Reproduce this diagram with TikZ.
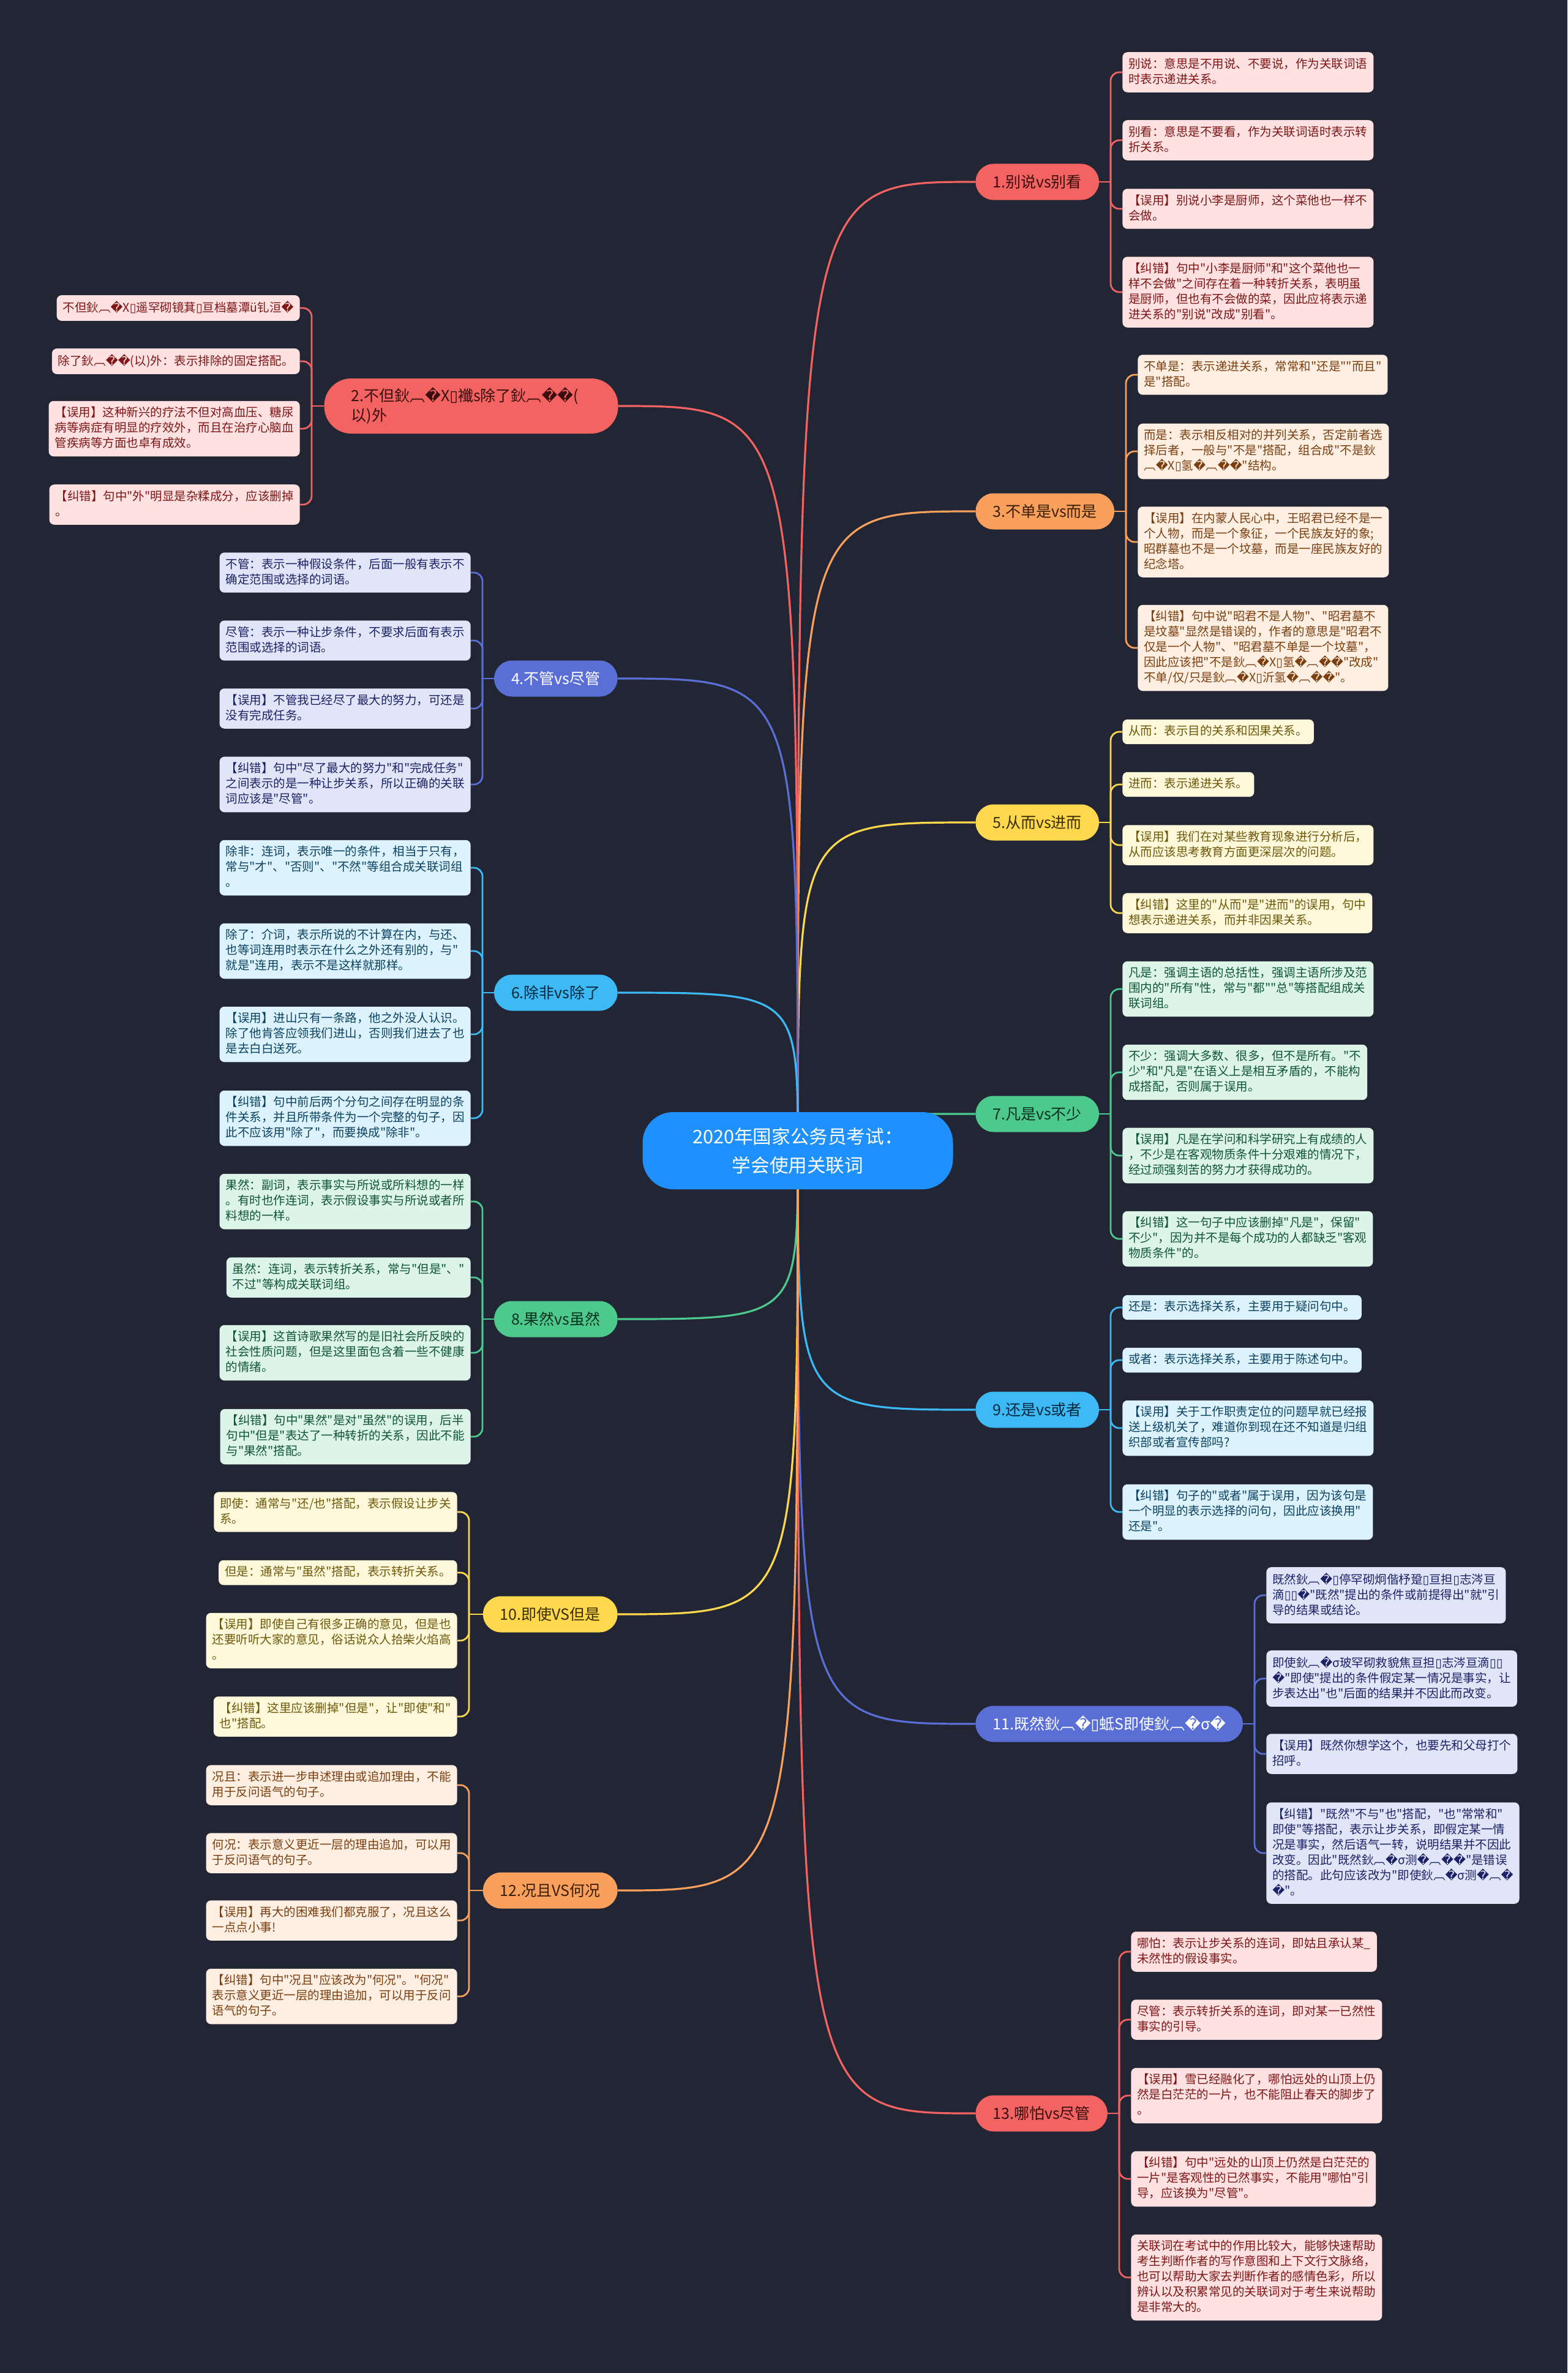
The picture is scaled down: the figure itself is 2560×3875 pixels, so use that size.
\documentclass[tikz,border=0pt]{standalone}
\usepackage{fontspec}
\newfontfamily\cjk{Noto Sans CJK SC}
\newfontfamily\djv{DejaVu Sans}
\newcommand\rpc{{\djv\char"FFFD}}
\newcommand\tofu{{\djv\char"25AF}}
\newcommand\lstrut{\rule[-2.5pt]{0pt}{10pt}}
\newcommand\leaffont{\cjk\fontsize{9.75pt}{12.5pt}\selectfont}
\newcommand\brfont{\cjk\fontsize{12.5pt}{16pt}\selectfont}
\newcommand\ctrfont{\cjk\fontsize{15.3pt}{23.5pt}\selectfont}
\pgfdeclarelayer{back}
\pgfdeclarelayer{bg}
\pgfsetlayers{back,bg,main}
\definecolor{bgc}{RGB}{34,38,52}
\definecolor{ctr}{RGB}{30,144,255}
\definecolor{redN}{RGB}{242,99,97}
\definecolor{redL}{RGB}{255,225,225}
\definecolor{redT}{RGB}{125,22,22}
\definecolor{redNT}{RGB}{58,14,14}
\definecolor{orgN}{RGB}{248,160,92}
\definecolor{orgL}{RGB}{255,239,227}
\definecolor{orgT}{RGB}{122,62,15}
\definecolor{orgNT}{RGB}{60,30,6}
\definecolor{yelN}{RGB}{255,216,78}
\definecolor{yelL}{RGB}{255,248,218}
\definecolor{yelT}{RGB}{110,88,10}
\definecolor{yelNT}{RGB}{58,46,0}
\definecolor{grnN}{RGB}{77,201,141}
\definecolor{grnL}{RGB}{221,245,233}
\definecolor{grnT}{RGB}{15,85,53}
\definecolor{grnNT}{RGB}{10,50,32}
\definecolor{bluN}{RGB}{90,111,214}
\definecolor{bluL}{RGB}{225,229,248}
\definecolor{bluT}{RGB}{27,34,102}
\definecolor{skyN}{RGB}{61,185,246}
\definecolor{skyL}{RGB}{220,242,253}
\definecolor{skyT}{RGB}{11,66,98}
\definecolor{skyNT}{RGB}{6,40,61}
\tikzset{
  leaf/.style={rounded corners=4pt, inner xsep=5pt, inner ysep=4.75pt, align=left, font=\leaffont,
    execute at begin node=\lstrut, execute at end node=\lstrut},
  lf red/.style={leaf, fill=redL, text=redT},
  lf org/.style={leaf, fill=orgL, text=orgT},
  lf yel/.style={leaf, fill=yelL, text=yelT},
  lf grn/.style={leaf, fill=grnL, text=grnT},
  lf blu/.style={leaf, fill=bluL, text=bluT},
  lf sky/.style={leaf, fill=skyL, text=skyT},
  br/.style={rounded corners=14.75pt, minimum height=29.5pt, inner xsep=14pt, font=\brfont},
  br red/.style={br, fill=redN, text=redNT},
  br org/.style={br, fill=orgN, text=orgNT},
  br yel/.style={br, fill=yelN, text=yelNT},
  br grn/.style={br, fill=grnN, text=grnNT},
  br blu/.style={br, fill=bluN, text=white},
  br sky/.style={br, fill=skyN, text=skyNT},
  ctrnode/.style={fill=ctr, text=white, rounded corners=25pt, minimum width=253.5pt,
    minimum height=63pt, align=center, font=\ctrfont},
  main/.style={draw=#1, line width=1.6pt},
  lk/.style={draw=#1, line width=1.4pt},
  lkc/.style={draw=#1, line width=1.4pt, rounded corners=7pt}
}
\begin{document}
\begin{tikzpicture}[x=0.5pt,y=-0.5pt]
\useasboundingbox (0,0) rectangle (2560,3875);
\begin{pgfonlayer}{back}
\fill[bgc] (0,0) rectangle (2560,3875);
\end{pgfonlayer}

% centre
\node[ctrnode] (c) at (1303,1879) {2020年国家公务员考试：\\学会使用关联词};

% ---------- right side ----------
\node[br red, anchor=west] (b1) at (1593,297) {1.别说vs别看};
\node[lf red, anchor=west] (l1a) at (1833,118) {别说：意思是不用说、不要说，作为关联词语\\时表示递进关系。};
\node[lf red, anchor=west] (l1b) at (1833,229) {别看：意思是不要看，作为关联词语时表示转\\折关系。};
\node[lf red, anchor=west] (l1c) at (1833,341) {【误用】别说小李是厨师，这个菜他也一样不\\会做。};
\node[lf red, anchor=west] (l1d) at (1833,477) {【纠错】句中"小李是厨师"和"这个菜他也一\\样不会做"之间存在着一种转折关系，表明虽\\是厨师，但也有不会做的菜，因此应将表示递\\进关系的"别说"改成"别看"。};

\node[br org, anchor=west] (b3) at (1593,835) {3.不单是vs而是};
\node[lf org, anchor=west] (l3a) at (1858,612) {不单是：表示递进关系，常常和"还是""而且"\\是"搭配。};
\node[lf org, anchor=west] (l3b) at (1858,737) {而是：表示相反相对的并列关系，否定前者选\\择后者，一般与"不是"搭配，组合成"不是鈥\\︹\rpc{}X\tofu{}氢\rpc{}︹\rpc{}\rpc{}"结构。};
\node[lf org, anchor=west] (l3c) at (1858,885) {【误用】在内蒙人民心中，王昭君已经不是一\\个人物，而是一个象征，一个民族友好的象;\\昭群墓也不是一个坟墓，而是一座民族友好的\\纪念塔。};
\node[lf org, anchor=west] (l3d) at (1858,1058) {【纠错】句中说"昭君不是人物"、"昭君墓不\\是坟墓"显然是错误的，作者的意思是"昭君不\\仅是一个人物"、"昭君墓不单是一个坟墓"，\\因此应该把"不是鈥︹\rpc{}X\tofu{}氢\rpc{}︹\rpc{}\rpc{}"改成"\\不单/仅/只是鈥︹\rpc{}X\tofu{}沂氢\rpc{}︹\rpc{}\rpc{}"。};

\node[br yel, anchor=west] (b5) at (1593,1343) {5.从而vs进而};
\node[lf yel, anchor=west] (l5a) at (1833,1195) {从而：表示目的关系和因果关系。};
\node[lf yel, anchor=west] (l5b) at (1833,1281) {进而：表示递进关系。};
\node[lf yel, anchor=west] (l5c) at (1833,1380) {【误用】我们在对某些教育现象进行分析后，\\从而应该思考教育方面更深层次的问题。};
\node[lf yel, anchor=west] (l5d) at (1833,1491) {【纠错】这里的"从而"是"进而"的误用，句中\\想表示递进关系，而并非因果关系。};

\node[br grn, anchor=west] (b7) at (1593,1819) {7.凡是vs不少};
\node[lf grn, anchor=west] (l7a) at (1833,1615) {凡是：强调主语的总括性，强调主语所涉及范\\围内的"所有"性，常与"都""总"等搭配组成关\\联词组。};
\node[lf grn, anchor=west] (l7b) at (1833,1751) {不少：强调大多数、很多，但不是所有。"不\\少"和"凡是"在语义上是相互矛盾的，不能构\\成搭配，否则属于误用。};
\node[lf grn, anchor=west] (l7c) at (1833,1887) {【误用】凡是在学问和科学研究上有成绩的人\\，不少是在客观物质条件十分艰难的情况下，\\经过顽强刻苦的努力才获得成功的。};
\node[lf grn, anchor=west] (l7d) at (1833,2023) {【纠错】这一句子中应该删掉"凡是"，保留"\\不少"，因为并不是每个成功的人都缺乏"客观\\物质条件"的。};

\node[br sky, anchor=west] (b9) at (1593,2302) {9.还是vs或者};
\node[lf sky, anchor=west] (l9a) at (1833,2135) {还是：表示选择关系，主要用于疑问句中。};
\node[lf sky, anchor=west] (l9b) at (1833,2221) {或者：表示选择关系，主要用于陈述句中。};
\node[lf sky, anchor=west] (l9c) at (1833,2332) {【误用】关于工作职责定位的问题早就已经报\\送上级机关了，难道你到现在还不知道是归组\\织部或者宣传部吗?};
\node[lf sky, anchor=west] (l9d) at (1833,2469) {【纠错】句子的"或者"属于误用，因为该句是\\一个明显的表示选择的问句，因此应该换用"\\还是"。};

\node[br blu, anchor=west] (b11) at (1593,2815) {11.既然鈥︹\rpc{}\tofu{}蚳S即使鈥︹\rpc{}σ\rpc{}};
\node[lf blu, anchor=west] (l11a) at (2068,2605) {既然鈥︹\rpc{}\tofu{}停罕砌炯偕杼跫\tofu{}亘担\tofu{}志涔亘\\滴\tofu{}\tofu{}\rpc{}"既然"提出的条件或前提得出"就"引\\导的结果或结论。};
\node[lf blu, anchor=west] (l11b) at (2068,2741) {即使鈥︹\rpc{}σ玻罕砌救貌焦亘担\tofu{}志涔亘滴\tofu{}\tofu{}\\\rpc{}"即使"提出的条件假定某一情况是事实，让\\步表达出"也"后面的结果并不因此而改变。};
\node[lf blu, anchor=west] (l11c) at (2068,2864) {【误用】既然你想学这个，也要先和父母打个\\招呼。};
\node[lf blu, anchor=west] (l11d) at (2068,3026) {【纠错】"既然"不与"也"搭配，"也"常常和"\\即使"等搭配，表示让步关系，即假定某一情\\况是事实，然后语气一转，说明结果并不因此\\改变。因此"既然鈥︹\rpc{}σ测\rpc{}︹\rpc{}\rpc{}"是错误\\的搭配。此句应该改为"即使鈥︹\rpc{}σ测\rpc{}︹\rpc{}\\\rpc{}"。};

\node[br red, anchor=west] (b13) at (1593,3451) {13.哪怕vs尽管};
\node[lf red, anchor=west] (l13a) at (1847,3187) {哪怕：表示让步关系的连词，即姑且承认某\_\\未然性的假设事实。};
\node[lf red, anchor=west] (l13b) at (1847,3298) {尽管：表示转折关系的连词，即对某一已然性\\事实的引导。};
\node[lf red, anchor=west] (l13c) at (1847,3422) {【误用】雪已经融化了，哪怕远处的山顶上仍\\然是白茫茫的一片，也不能阻止春天的脚步了\\。};
\node[lf red, anchor=west] (l13d) at (1847,3558) {【纠错】句中"远处的山顶上仍然是白茫茫的\\一片"是客观性的已然事实，不能用"哪怕"引\\导，应该换为"尽管"。};
\node[lf red, anchor=west] (l13e) at (1847,3719) {关联词在考试中的作用比较大，能够快速帮助\\考生判断作者的写作意图和上下文行文脉络，\\也可以帮助大家去判断作者的感情色彩，所以\\辨认以及积累常见的关联词对于考生来说帮助\\是非常大的。};

% ---------- left side ----------
\node[br red, anchor=east, minimum height=45pt, rounded corners=22pt, inner xsep=22pt, text width=196pt, align=left] (b2) at (1010,663) {2.不但鈥︹\rpc{}X\tofu{}襳s除了鈥︹\rpc{}\rpc{}(\\以)外};
\node[lf red, anchor=east] (l2a) at (490,503) {不但鈥︹\rpc{}X\tofu{}遥罕砌镜萁\tofu{}亘档墓潭ü钆洹\rpc{}};
\node[lf red, anchor=east] (l2b) at (490,590) {除了鈥︹\rpc{}\rpc{}(以)外：表示排除的固定搭配。};
\node[lf red, anchor=east] (l2c) at (490,700) {【误用】这种新兴的疗法不但对高血压、糖尿\\病等病症有明显的疗效外，而且在治疗心脑血\\管疾病等方面也卓有成效。};
\node[lf red, anchor=east] (l2d) at (490,824) {【纠错】句中"外"明显是杂糅成分，应该删掉\\。};

\node[br blu, anchor=east] (b4) at (1009,1108) {4.不管vs尽管};
\node[lf blu, anchor=east] (l4a) at (769,935) {不管：表示一种假设条件，后面一般有表示不\\确定范围或选择的词语。};
\node[lf blu, anchor=east] (l4b) at (769,1046) {尽管：表示一种让步条件，不要求后面有表示\\范围或选择的词语。};
\node[lf blu, anchor=east] (l4c) at (769,1157) {【误用】不管我已经尽了最大的努力，可还是\\没有完成任务。};
\node[lf blu, anchor=east] (l4d) at (769,1281) {【纠错】句中"尽了最大的努力"和"完成任务"\\之间表示的是一种让步关系，所以正确的关联\\词应该是"尽管"。};

\node[br sky, anchor=east] (b6) at (1009,1621) {6.除非vs除了};
\node[lf sky, anchor=east] (l6a) at (769,1417) {除非：连词，表示唯一的条件，相当于只有，\\常与"才"、"否则"、"不然"等组合成关联词组\\。};
\node[lf sky, anchor=east] (l6b) at (769,1553) {除了：介词，表示所说的不计算在内，与还、\\也等词连用时表示在什么之外还有别的，与"\\就是"连用，表示不是这样就那样。};
\node[lf sky, anchor=east] (l6c) at (769,1689) {【误用】进山只有一条路，他之外没人认识。\\除了他肯答应领我们进山，否则我们进去了也\\是去白白送死。};
\node[lf sky, anchor=east] (l6d) at (769,1826) {【纠错】句中前后两个分句之间存在明显的条\\件关系，并且所带条件为一个完整的句子，因\\此不应该用"除了"，而要换成"除非"。};

\node[br grn, anchor=east] (b8) at (1009,2154) {8.果然vs虽然};
\node[lf grn, anchor=east] (l8a) at (769,1962) {果然：副词，表示事实与所说或所料想的一样\\。有时也作连词，表示假设事实与所说或者所\\料想的一样。};
\node[lf grn, anchor=east] (l8b) at (769,2086) {虽然：连词，表示转折关系，常与"但是"、"\\不过"等构成关联词组。};
\node[lf grn, anchor=east] (l8c) at (769,2209) {【误用】这首诗歌果然写的是旧社会所反映的\\社会性质问题，但是这里面包含着一些不健康\\的情绪。};
\node[lf grn, anchor=east] (l8d) at (769,2346) {【纠错】句中"果然"是对"虽然"的误用，后半\\句中"但是"表达了一种转折的关系，因此不能\\与"果然"搭配。};

\node[br yel, anchor=east] (b10) at (1009,2636) {10.即使VS但是};
\node[lf yel, anchor=east] (l10a) at (747,2469) {即使：通常与"还/也"搭配，表示假设让步关\\系。};
\node[lf yel, anchor=east] (l10b) at (747,2568) {但是：通常与"虽然"搭配，表示转折关系。};
\node[lf yel, anchor=east] (l10c) at (747,2679) {【误用】即使自己有很多正确的意见，但是也\\还要听听大家的意见，俗话说众人拾柴火焰高\\。};
\node[lf yel, anchor=east] (l10d) at (747,2803) {【纠错】这里应该删掉"但是"，让"即使"和"\\也"搭配。};

\node[br org, anchor=east] (b12) at (1009,3087) {12.况且VS何况};
\node[lf org, anchor=east] (l12a) at (747,2915) {况且：表示进一步申述理由或追加理由，不能\\用于反问语气的句子。};
\node[lf org, anchor=east] (l12b) at (747,3026) {何况：表示意义更近一层的理由追加，可以用\\于反问语气的句子。};
\node[lf org, anchor=east] (l12c) at (747,3136) {【误用】再大的困难我们都克服了，况且这么\\一点点小事!};
\node[lf org, anchor=east] (l12d) at (747,3260) {【纠错】句中"况且"应该改为"何况"。"何况"\\表示意义更近一层的理由追加，可以用于反问\\语气的句子。};

% junctions
\coordinate (j1) at (1814,297);
\coordinate (j3) at (1839,835);
\coordinate (j5) at (1814,1343);
\coordinate (j7) at (1814,1819);
\coordinate (j9) at (1814,2302);
\coordinate (j11) at (2049,2815);
\coordinate (j13) at (1828,3451);
\coordinate (j2) at (509,663);
\coordinate (j4) at (788,1108);
\coordinate (j6) at (788,1621);
\coordinate (j8) at (788,2154);
\coordinate (j10) at (766,2636);
\coordinate (j12) at (766,3087);

\begin{pgfonlayer}{bg}
% centre to branches
\foreach \b/\col in {b1/redN,b3/orgN,b5/yelN,b7/grnN,b9/skyN,b11/bluN,b13/redN}
  \draw[main=\col] (c.center) .. controls (c.center |- \b.west) .. (\b.west);
\foreach \b/\col in {b2/redN,b4/bluN,b6/skyN,b8/grnN,b10/yelN,b12/orgN}
  \draw[main=\col] (c.center) .. controls (c.center |- \b.east) .. (\b.east);
% right branches to leaves
\draw[lk=redN] (b1.east) -- (j1);
\foreach \l in {l1a,l1b,l1c,l1d} \draw[lkc=redN] (j1) |- (\l.west);
\draw[lk=orgN] (b3.east) -- (j3);
\foreach \l in {l3a,l3b,l3c,l3d} \draw[lkc=orgN] (j3) |- (\l.west);
\draw[lk=yelN] (b5.east) -- (j5);
\foreach \l in {l5a,l5b,l5c,l5d} \draw[lkc=yelN] (j5) |- (\l.west);
\draw[lk=grnN] (b7.east) -- (j7);
\foreach \l in {l7a,l7b,l7c,l7d} \draw[lkc=grnN] (j7) |- (\l.west);
\draw[lk=skyN] (b9.east) -- (j9);
\foreach \l in {l9a,l9b,l9c,l9d} \draw[lkc=skyN] (j9) |- (\l.west);
\draw[lk=bluN] (b11.east) -- (j11);
\foreach \l in {l11a,l11b,l11c,l11d} \draw[lkc=bluN] (j11) |- (\l.west);
\draw[lk=redN] (b13.east) -- (j13);
\foreach \l in {l13a,l13b,l13c,l13d,l13e} \draw[lkc=redN] (j13) |- (\l.west);
% left branches to leaves
\draw[lk=redN] (b2.west) -- (j2);
\foreach \l in {l2a,l2b,l2c,l2d} \draw[lkc=redN] (j2) |- (\l.east);
\draw[lk=bluN] (b4.west) -- (j4);
\foreach \l in {l4a,l4b,l4c,l4d} \draw[lkc=bluN] (j4) |- (\l.east);
\draw[lk=skyN] (b6.west) -- (j6);
\foreach \l in {l6a,l6b,l6c,l6d} \draw[lkc=skyN] (j6) |- (\l.east);
\draw[lk=grnN] (b8.west) -- (j8);
\foreach \l in {l8a,l8b,l8c,l8d} \draw[lkc=grnN] (j8) |- (\l.east);
\draw[lk=yelN] (b10.west) -- (j10);
\foreach \l in {l10a,l10b,l10c,l10d} \draw[lkc=yelN] (j10) |- (\l.east);
\draw[lk=orgN] (b12.west) -- (j12);
\foreach \l in {l12a,l12b,l12c,l12d} \draw[lkc=orgN] (j12) |- (\l.east);
\end{pgfonlayer}
\end{tikzpicture}
\end{document}
